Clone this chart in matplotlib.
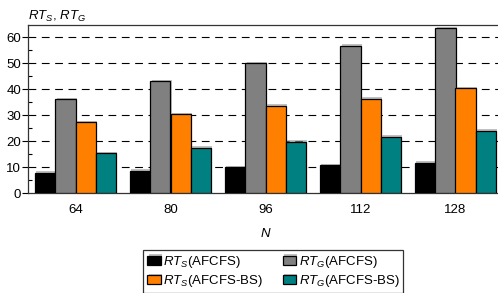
import numpy as np
import matplotlib
matplotlib.use("Agg")
import matplotlib.pyplot as plt
import matplotlib.patheffects as pe

plt.rcParams['font.family'] = ['Liberation Sans', 'DejaVu Sans']
plt.rcParams['mathtext.fontset'] = 'custom'
plt.rcParams['mathtext.rm'] = 'Liberation Sans'
plt.rcParams['mathtext.it'] = 'Liberation Sans:italic'

categories = ['64', '80', '96', '112', '128']
rts_afcfs = [8.0, 8.7, 10.0, 10.9, 11.8]
rtg_afcfs = [36.2, 43.1, 50.2, 56.9, 63.6]
rts_bs = [27.4, 30.4, 33.8, 36.5, 40.4]
rtg_bs = [15.4, 17.5, 19.8, 21.8, 24.1]

series = [
    (rts_afcfs, '#000000', r'$RT_S$(AFCFS)'),
    (rtg_afcfs, '#808080', r'$RT_G$(AFCFS)'),
    (rts_bs, '#FF8000', r'$RT_S$(AFCFS-BS)'),
    (rtg_bs, '#008080', r'$RT_G$(AFCFS-BS)'),
]

fs = 9.5
fig = plt.figure(figsize=(4.98, 2.93), dpi=100)
ax = fig.add_axes([28/498, 1-193.3/293, 475/498, 168.8/293])

x = np.arange(len(categories))
w = 0.213
handles = {}
shadow = [pe.SimplePatchShadow(offset=(1, 1), shadow_rgbFace='#999999', alpha=0.6), pe.Normal()]
for i, (vals, col, lab) in enumerate(series):
    bars = ax.bar(x + (i - 1.5) * w, vals, w, color=col, edgecolor='black', linewidth=0.9,
                  label=lab, zorder=3)
    for b in bars:
        b.set_path_effects(shadow)
    handles[lab] = bars

ax.set_xlim(-0.5, 4.5)
ax.set_ylim(0, 65)
ax.set_yticks(range(0, 61, 10))
ax.set_yticks(range(5, 61, 10), minor=True)
for yv in range(10, 61, 10):
    ax.axhline(yv, color='black', lw=0.8, dashes=(7, 5), zorder=1)

ax.set_xticks(x)
ax.set_xticklabels(categories)
ax.tick_params(axis='x', length=0, pad=8, labelsize=fs)
ax.tick_params(axis='y', which='major', direction='out', length=4, width=0.8, pad=1, labelsize=fs)
ax.tick_params(axis='y', which='minor', direction='in', length=3, width=0.8)
for s in ax.spines.values():
    s.set_linewidth(0.9)
    s.set_color('#333333')

ax.set_xlabel('N', fontstyle='italic', fontsize=fs, labelpad=8)
fig.text(28/498, 1-16/293, r'$RT_{S},\,RT_{G}$', ha='left', va='center', fontsize=fs)

order = [r'$RT_S$(AFCFS)', r'$RT_S$(AFCFS-BS)', r'$RT_G$(AFCFS)', r'$RT_G$(AFCFS-BS)']
leg = fig.legend([handles[k] for k in order], order, loc='center', ncol=2,
                 bbox_to_anchor=(0.549, 0.073), fontsize=fs, frameon=True, fancybox=False,
                 handlelength=1.0, handleheight=0.7, handletextpad=0.2, columnspacing=1.5,
                 labelspacing=0.25, borderpad=0.3, borderaxespad=0)
leg.get_frame().set_edgecolor('black')
leg.get_frame().set_linewidth(0.9)

fig.savefig('out.png', dpi=100)
